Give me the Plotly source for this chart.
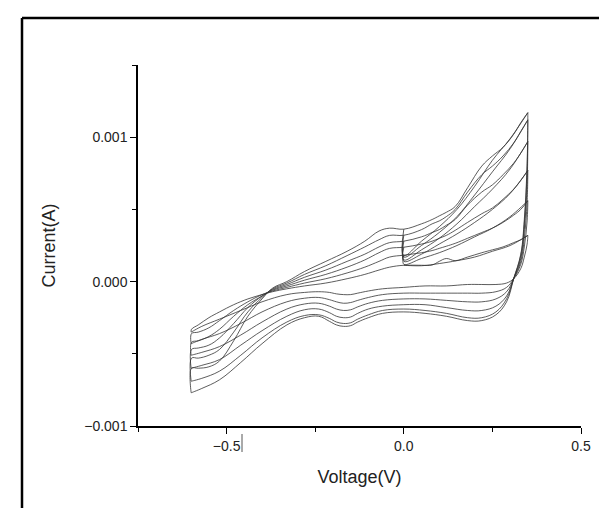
import plotly.graph_objects as go

# cyclic voltammograms, 6 scan rates (inner -> outer), current values in units of 1e-3 A
start_x = [0.0, 0.0, 0.05, 0.10, 0.15, 0.20, 0.25, 0.30, 0.35]
start_y = [
    [0.113, 0.113, 0.110, 0.125, 0.145, 0.170, 0.210, 0.250, 0.320],
    [0.183, 0.120, 0.160, 0.200, 0.250, 0.310, 0.370, 0.450, 0.560],
    [0.238, 0.140, 0.190, 0.260, 0.330, 0.410, 0.500, 0.610, 0.770],
    [0.280, 0.150, 0.220, 0.300, 0.400, 0.520, 0.640, 0.780, 0.970],
    [0.321, 0.170, 0.250, 0.340, 0.450, 0.600, 0.760, 0.920, 1.120],
    [0.363, 0.180, 0.280, 0.380, 0.500, 0.660, 0.840, 0.990, 1.170],
]

cath_x = [0.35, 0.348, 0.34, 0.33, 0.31, 0.29, 0.26, 0.22, 0.18, 0.12, 0.06, 0.0,
          -0.06, -0.10, -0.13, -0.15, -0.17, -0.19, -0.21, -0.24, -0.28, -0.33,
          -0.40, -0.46, -0.52, -0.57, -0.60]
cath_y = [
    [0.32, 0.26, 0.17, 0.09, 0.02, -0.01, -0.02, -0.02, -0.02, -0.03, -0.03, -0.04,
     -0.05, -0.065, -0.08, -0.09, -0.09, -0.085, -0.075, -0.07, -0.075, -0.09,
     -0.14, -0.20, -0.26, -0.31, -0.35],
    [0.56, 0.42, 0.24, 0.12, 0.02, -0.04, -0.07, -0.08, -0.08, -0.08, -0.08, -0.08,
     -0.09, -0.11, -0.13, -0.145, -0.15, -0.14, -0.125, -0.11, -0.115, -0.14,
     -0.21, -0.29, -0.36, -0.40, -0.43],
    [0.77, 0.55, 0.30, 0.14, 0.02, -0.07, -0.12, -0.14, -0.14, -0.13, -0.12, -0.12,
     -0.13, -0.15, -0.175, -0.195, -0.20, -0.19, -0.17, -0.15, -0.155, -0.19,
     -0.28, -0.37, -0.45, -0.49, -0.51],
    [0.97, 0.68, 0.36, 0.16, 0.02, -0.10, -0.17, -0.20, -0.20, -0.18, -0.16, -0.16,
     -0.17, -0.19, -0.22, -0.245, -0.25, -0.24, -0.215, -0.19, -0.195, -0.24,
     -0.34, -0.44, -0.54, -0.58, -0.60],
    [1.12, 0.78, 0.40, 0.18, 0.02, -0.12, -0.21, -0.25, -0.25, -0.22, -0.20, -0.19,
     -0.20, -0.23, -0.26, -0.285, -0.29, -0.28, -0.255, -0.23, -0.235, -0.28,
     -0.39, -0.51, -0.62, -0.67, -0.69],
    [1.17, 0.82, 0.43, 0.19, 0.02, -0.14, -0.23, -0.27, -0.27, -0.24, -0.22, -0.21,
     -0.22, -0.25, -0.28, -0.305, -0.31, -0.30, -0.275, -0.24, -0.25, -0.30,
     -0.43, -0.56, -0.68, -0.74, -0.77],
]

an_x = [-0.60, -0.599, -0.58, -0.55, -0.52, -0.48, -0.44, -0.40, -0.37, -0.33, -0.28,
        -0.22, -0.16, -0.11, -0.07, -0.04, 0.0, 0.05, 0.08, 0.10, 0.12, 0.145, 0.18,
        0.22, 0.25, 0.28, 0.31, 0.33, 0.35]
an_y = [
    [-0.35, -0.33, -0.30, -0.25, -0.21, -0.16, -0.12, -0.09, -0.07, -0.05, -0.03,
     -0.01, 0.02, 0.05, 0.08, 0.10, 0.113, 0.113, 0.115, 0.14, 0.16, 0.145, 0.17,
     0.20, 0.22, 0.24, 0.27, 0.29, 0.32],
    [-0.43, -0.36, -0.35, -0.32, -0.27, -0.20, -0.14, -0.09, -0.065, -0.04, -0.01,
     0.02, 0.06, 0.10, 0.14, 0.17, 0.183, 0.20, 0.215, 0.23, 0.245, 0.265, 0.30,
     0.34, 0.37, 0.41, 0.46, 0.50, 0.56],
    [-0.51, -0.42, -0.41, -0.38, -0.33, -0.24, -0.16, -0.10, -0.06, -0.03, 0.01,
     0.05, 0.10, 0.15, 0.20, 0.23, 0.238, 0.26, 0.28, 0.30, 0.32, 0.355, 0.41,
     0.47, 0.51, 0.57, 0.64, 0.70, 0.77],
    [-0.60, -0.47, -0.46, -0.44, -0.39, -0.29, -0.18, -0.10, -0.055, -0.02, 0.03,
     0.08, 0.14, 0.19, 0.24, 0.27, 0.280, 0.31, 0.34, 0.36, 0.39, 0.43, 0.53,
     0.62, 0.67, 0.74, 0.82, 0.89, 0.97],
    [-0.69, -0.53, -0.53, -0.51, -0.47, -0.35, -0.21, -0.11, -0.05, -0.01, 0.05,
     0.11, 0.18, 0.24, 0.29, 0.32, 0.321, 0.36, 0.40, 0.42, 0.45, 0.50, 0.62,
     0.74, 0.80, 0.87, 0.96, 1.04, 1.12],
    [-0.77, -0.60, -0.60, -0.59, -0.55, -0.41, -0.24, -0.12, -0.045, 0.00, 0.07,
     0.14, 0.21, 0.28, 0.35, 0.37, 0.363, 0.40, 0.43, 0.455, 0.48, 0.52, 0.65,
     0.80, 0.87, 0.93, 1.02, 1.10, 1.17],
]

fig = go.Figure()
for i in range(len(start_y)):
    xs = start_x + cath_x + an_x
    ys = [v * 1e-3 for v in start_y[i] + cath_y[i] + an_y[i]]
    fig.add_trace(go.Scatter(x=xs, y=ys, mode='lines',
                             line=dict(color='#333333', width=0.8,
                                       shape='spline', smoothing=1.1),
                             showlegend=False))

font = dict(family='Arial, Liberation Sans, sans-serif', color='#222222')

W, H = 607, 508
L, R, T, B = 130, 34, 57, 90
pw, ph = W - L - R, H - T - B

# frame of the picture: only top and left edges fall inside the image
fig.add_shape(type='line', xref='paper', yref='paper',
              x0=(14 - L) / pw, x1=(640 - L) / pw,
              y0=((H - B) - 10) / ph, y1=((H - B) - 10) / ph,
              line=dict(color='black', width=2.5))
fig.add_shape(type='line', xref='paper', yref='paper',
              x0=(14 - L) / pw, x1=(14 - L) / pw,
              y0=-(540 - (H - B)) / ph, y1=((H - B) - 10) / ph,
              line=dict(color='black', width=2.5))
# stray text cursor next to the -0.5 label
fig.add_shape(type='line', xref='paper', yref='paper',
              x0=(234 - L) / pw, x1=(234 - L) / pw,
              y0=-8 / ph, y1=-26 / ph,
              line=dict(color='#555555', width=1))

fig.update_layout(
    width=W, height=H,
    margin=dict(l=L, r=R, t=T, b=B),
    paper_bgcolor='white', plot_bgcolor='white',
    font=dict(size=14, **font),
    xaxis=dict(range=[-0.75, 0.5], tickvals=[-0.5, 0.0, 0.5], tickformat='.1f',
               showgrid=False, zeroline=False, showline=True, linecolor='black',
               linewidth=1.5, ticks='outside', ticklen=6, tickwidth=1.3,
               tickcolor='black',
               minor=dict(tickvals=[-0.75, -0.25, 0.25], ticks='outside',
                          ticklen=4, tickwidth=1.2, tickcolor='black'),
               title=dict(text='Voltage(V)', font=dict(size=18, **font), standoff=18)),
    yaxis=dict(range=[-0.001, 0.0015], tickvals=[-0.001, 0.0, 0.001], tickformat='.3f',
               showgrid=False, zeroline=False, showline=True, linecolor='black',
               linewidth=1.5, ticks='outside', ticklen=6, tickwidth=1.3,
               tickcolor='black',
               minor=dict(tickvals=[-0.0005, 0.0005, 0.0015], ticks='outside',
                          ticklen=4, tickwidth=1.2, tickcolor='black'),
               title=dict(text='Current(A)', font=dict(size=18, **font), standoff=24)),
)

fig.write_html("out.html")
